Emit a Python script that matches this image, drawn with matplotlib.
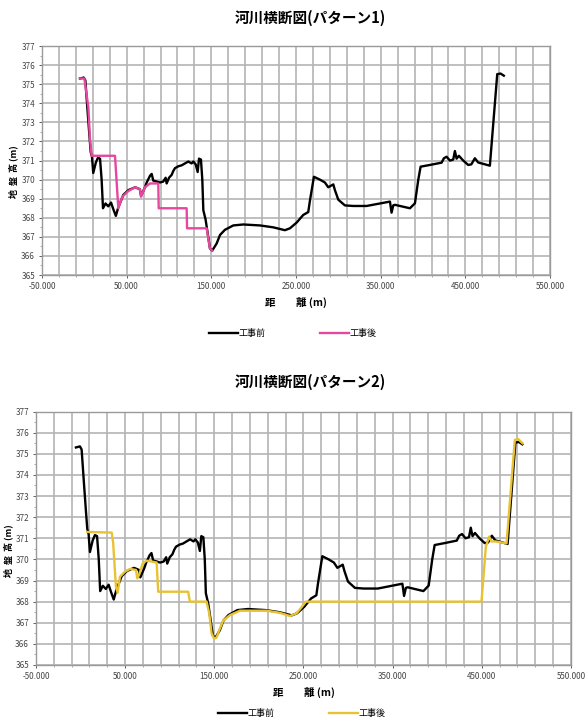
import numpy as np
import matplotlib
matplotlib.use('Agg')
import matplotlib.pyplot as plt
from matplotlib.ticker import FixedLocator, FuncFormatter

plt.rcParams['font.family'] = ['Noto Sans CJK JP', 'DejaVu Sans']

# 工事前 (same for both patterns)
before_x = [-5.2, -0.7, 1.2, 3.8, 6.0, 7.5, 9.0, 10.5, 13.6, 16.1, 18.5, 20.4, 22.0, 25.0, 28.3,
            31.5, 34.2, 37.2, 40.1, 43.3, 46.0, 52.0, 60.0, 65.5, 67.0, 71.6, 73.6, 77.5, 79.5,
            81.4, 85.4, 89.3, 93.2, 96.0, 97.2, 100.0, 103.1, 105.0, 107.0, 111.0, 114.9, 118.8,
            122.8, 126.7, 128.7, 131.5, 133.8, 135.4, 137.7, 139.3, 140.5, 143.2, 145.6, 148.3,
            151.0, 156.2, 160.2, 166.0, 175.9, 187.7, 207.4, 223.1, 236.9, 242.8, 250.7, 258.5,
            264.4, 266.4, 271.1, 278.2, 284.1, 288.0, 294.0, 295.9, 299.9, 307.7, 317.6, 333.3,
            349.0, 360.9, 362.8, 364.8, 366.8, 384.5, 390.4, 394.3, 397.1, 408.1, 421.9, 424.6,
            427.8, 431.7, 435.6, 437.6, 439.6, 442.3, 447.4, 453.3, 457.0, 461.2, 465.1, 478.9,
            487.6, 491.5, 495.4]
before_y = [375.3, 375.35, 375.2, 373.6, 372.3, 371.45, 371.2, 370.35, 370.9, 371.15, 371.1, 370.0,
            368.5, 368.75, 368.6, 368.8, 368.45, 368.1, 368.55, 368.9, 369.2, 369.45, 369.6, 369.5,
            369.15, 369.6, 369.85, 370.2, 370.3, 369.95, 369.9, 369.85, 369.9, 370.1, 369.8, 370.1,
            370.25, 370.45, 370.6, 370.7, 370.75, 370.85, 370.95, 370.85, 370.95, 370.8, 370.4,
            371.1, 371.05, 370.0, 368.4, 367.9, 367.2, 366.4, 366.28, 366.65, 367.1, 367.37, 367.6,
            367.65, 367.6, 367.5, 367.35, 367.45, 367.75, 368.15, 368.3, 368.9, 370.15, 370.0,
            369.85, 369.6, 369.75, 369.45, 368.95, 368.65, 368.62, 368.62, 368.75, 368.85, 368.27,
            368.65, 368.68, 368.5, 368.76, 369.98, 370.68, 370.77, 370.89, 371.12, 371.2, 371.0,
            371.05, 371.5, 371.1, 371.25, 371.0, 370.77, 370.8, 371.12, 370.9, 370.73, 375.53,
            375.56, 375.45]

# 工事後 パターン1
after1_x = [-5.1, 0.0, 4.7, 6.7, 8.6, 36.2, 40.1, 44.8, 51.9, 59.8, 65.7, 66.9, 71.6, 77.5, 83.4,
            87.3, 87.8, 120.8, 121.3, 144.4, 148.3, 151.0]
after1_y = [375.3, 375.3, 373.8, 372.1, 371.25, 371.25, 368.5, 369.1, 369.4, 369.6, 369.5, 369.1,
            369.6, 369.8, 369.8, 369.8, 368.5, 368.5, 367.45, 367.45, 366.4, 366.28]

# 工事後 パターン2
after2_x = [7.5, 34.9, 36.5, 39.7, 41.6, 44.2, 49.8, 55.4, 62.1, 63.6, 66.0, 69.6, 74.1, 79.7, 85.3,
            87.1, 120.7, 122.6, 141.3, 144.3, 146.9, 149.6, 152.5, 155.5, 160.0, 167.5, 178.7,
            208.6, 223.5, 234.8, 242.3, 247.8, 252.7, 449.6, 454.5, 458.2, 460.9, 465.0, 477.7,
            487.0, 490.7, 495.6]
after2_y = [371.3, 371.27, 370.8, 368.7, 368.42, 369.18, 369.42, 369.55, 369.5, 369.1, 369.3,
            369.81, 369.94, 369.9, 369.85, 368.47, 368.47, 368.0, 368.0, 367.45, 366.5, 366.26,
            366.3, 366.65, 367.1, 367.36, 367.57, 367.57, 367.47, 367.32, 367.45, 367.73, 368.0,
            368.0, 370.6, 371.08, 370.85, 370.85, 370.76, 375.66, 375.7, 375.5]

x_ticks = [-50, 50, 150, 250, 350, 450, 550]
x_minor = [v for v in range(-50, 551, 20) if v not in x_ticks]
y_ticks = list(range(365, 378))

fig = plt.figure(figsize=(5.86, 7.2), dpi=100)


def draw(rect, ax_title, after_x, after_y, color, title_y, label_x, legend_y, legend_x):
    ax = fig.add_axes(rect)
    ax.plot(before_x, before_y, color='black', lw=1.7, label='工事前', zorder=3)
    ax.plot(after_x, after_y, color=color, lw=1.7, label='工事後', zorder=4)
    ax.set_xlim(-50, 550)
    ax.set_ylim(365, 377)
    ax.set_xticks(x_ticks)
    ax.xaxis.set_minor_locator(FixedLocator(x_minor))
    ax.set_yticks(y_ticks)
    ax.yaxis.set_minor_locator(FixedLocator([v + 0.5 for v in y_ticks[:-1]]))
    ax.xaxis.set_major_formatter(FuncFormatter(lambda v, p: '%.3f' % v))
    ax.grid(True, which='major', color='#b4b4b4', lw=1.2)
    ax.grid(True, which='minor', axis='x', color='#b4b4b4', lw=1.2)
    ax.tick_params(labelsize=5.8, colors='#444444', length=2, width=0.6, pad=3)
    ax.tick_params(which='minor', length=1.5, width=0.5, colors='#888888')
    for s in ax.spines.values():
        s.set_color('#9a9a9a')
        s.set_linewidth(1.0)
    ax.set_xlabel('距　　離 (m)', fontsize=7.5, fontweight='bold', labelpad=4)
    fig.text(label_x, rect[1] + rect[3] * 0.45, '地  盤  高 (m)', rotation=90,
             fontsize=6.5, fontweight='bold', ha='center', va='center')
    fig.text(0.53, title_y, ax_title, fontsize=10.5, fontweight='bold', ha='center', va='center')
    ax.legend(loc='center', bbox_to_anchor=(legend_x, legend_y), bbox_transform=fig.transFigure,
              ncol=2, frameon=False, fontsize=6.5, handlelength=3.2, columnspacing=6,
              handletextpad=0.1)
    return ax


draw([0.0717, 0.618, 0.867, 0.318], '河川横断図(パターン1)', after1_x, after1_y, '#e5489e',
     0.975, 0.022, 0.537, 0.5)
draw([0.0614, 0.0764, 0.913, 0.352], '河川横断図(パターン2)', after2_x, after2_y, '#e8c232',
     0.47, 0.014, 0.009, 0.515)

fig.savefig('out.png', dpi=100)
